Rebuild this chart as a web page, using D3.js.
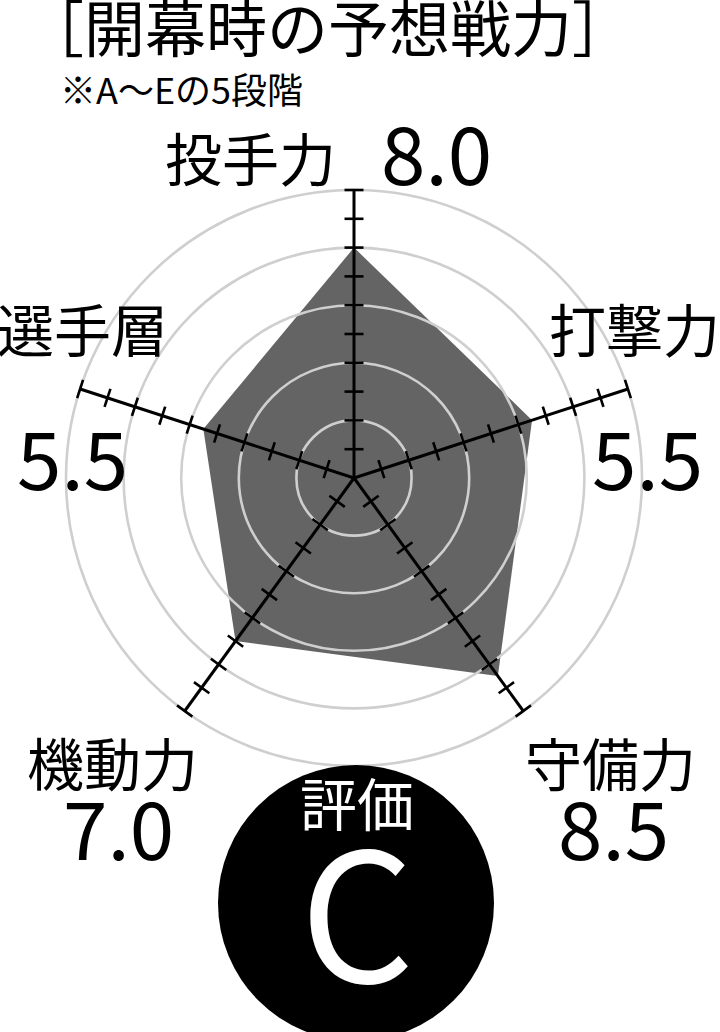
<!DOCTYPE html>
<html>
<head>
<meta charset="utf-8">
<script src="https://cdn.jsdelivr.net/npm/d3@7"></script>
<style>
  html, body { margin: 0; padding: 0; background: #fff; }
  svg { display: block; }
  text { font-family: "Noto Sans CJK JP", "Noto Sans", sans-serif; }
</style>
</head>
<body>
<div id="chart"></div>
<script>
// Axis names clockwise from the top
const AXES = ['投手力', '打撃力', '守備力', '機動力', '選手層'];
// Values as plotted by the polygon
const VALUES = [8.0, 6.5, 8.5, 7.0, 5.5];
// Values as printed beside each axis
const VALUE_LABELS = ['8.0', '5.5', '8.5', '7.0', '5.5'];
const RINGS = [2, 4, 6, 8, 10];
const TICKS = [1, 2, 3, 4, 5, 6, 7, 8, 9, 10];
const TITLE = '［開幕時の予想戦力］';
const SUBTITLE = '※A〜Eの5段階';
const GRADE_LABEL = '評価';
const GRADE = 'C';

(function() {
  const W = 720, H = 1032;
  const cx = 354, cy = 478;
  const R = 288;
  const TICK_HALF = 9.5;

  // Label anchors per axis (name, value)
  const LAYOUT = [
    { name: [336, 181, 'end'], value: [381, 185] },
    { name: [549, 352, 'start'], value: [592, 490] },
    { name: [525, 786, 'start'], value: [558, 860] },
    { name: [27, 786, 'start'], value: [63, 860] },
    { name: [-3, 352, 'start'], value: [17, 490] }
  ];

  const svg = d3.select('#chart')
    .append('svg')
    .attr('width', W)
    .attr('height', H);

  const r = d3.scaleLinear().domain([0, 10]).range([0, R]);
  const angle = i => i * 2 * Math.PI / AXES.length;  // clockwise from 12 o'clock
  const pt = (i, v) => [Math.sin(angle(i)) * r(v), -Math.cos(angle(i)) * r(v)];

  const g = svg.append('g').attr('transform', `translate(${cx},${cy})`);

  // Value polygon
  const radar = d3.lineRadial()
    .angle((d, i) => angle(i))
    .radius(d => r(d))
    .curve(d3.curveLinearClosed);

  g.append('path')
    .datum(VALUES)
    .attr('d', radar)
    .attr('fill', '#646464');

  // Rings drawn over the polygon
  g.append('g')
    .selectAll('circle')
    .data(RINGS)
    .join('circle')
    .attr('r', d => r(d))
    .attr('fill', 'none')
    .attr('stroke', '#cfcfcf')
    .attr('stroke-width', 2.6);

  // Axes with perpendicular ticks
  const axis = g.append('g')
    .selectAll('g')
    .data(AXES)
    .join('g');

  axis.append('line')
    .attr('x1', 0).attr('y1', 0)
    .attr('x2', (d, i) => pt(i, 10)[0])
    .attr('y2', (d, i) => pt(i, 10)[1])
    .attr('stroke', '#000')
    .attr('stroke-width', 3);

  axis.each(function(d, i) {
    const a = angle(i);
    const px = Math.cos(a), py = Math.sin(a);  // perpendicular direction
    d3.select(this).selectAll('line.tick')
      .data(TICKS)
      .join('line')
      .attr('class', 'tick')
      .attr('x1', t => pt(i, t)[0] - px * TICK_HALF)
      .attr('y1', t => pt(i, t)[1] - py * TICK_HALF)
      .attr('x2', t => pt(i, t)[0] + px * TICK_HALF)
      .attr('y2', t => pt(i, t)[1] + py * TICK_HALF)
      .attr('stroke', '#000')
      .attr('stroke-width', 2.6);
  });

  // Title
  svg.append('text')
    .attr('x', 23).attr('y', 52)
    .attr('font-size', 61)
    .attr('fill', '#000')
    .text(TITLE);

  svg.append('text')
    .attr('x', 60).attr('y', 104)
    .attr('font-size', 36)
    .attr('fill', '#000')
    .text(SUBTITLE);

  // Axis names and value labels
  const labels = svg.append('g');
  AXES.forEach((name, i) => {
    const L = LAYOUT[i];
    labels.append('text')
      .attr('x', L.name[0]).attr('y', L.name[1])
      .attr('text-anchor', L.name[2])
      .attr('font-size', 57)
      .attr('fill', '#000')
      .text(name);
    labels.append('text')
      .attr('x', L.value[0]).attr('y', L.value[1])
      .attr('font-size', 80)
      .attr('fill', '#000')
      .text(VALUE_LABELS[i]);
  });

  // Grade badge
  const badge = svg.append('g').attr('transform', 'translate(356,903)');
  badge.append('circle')
    .attr('r', 138)
    .attr('fill', '#000');
  badge.append('text')
    .attr('x', 1).attr('y', -77)
    .attr('text-anchor', 'middle')
    .attr('font-size', 57)
    .attr('fill', '#fff')
    .text(GRADE_LABEL);
  badge.append('text')
    .attr('x', 1).attr('y', 80)
    .attr('text-anchor', 'middle')
    .attr('font-size', 179)
    .attr('fill', '#fff')
    .text(GRADE);
})();
</script>
</body>
</html>
